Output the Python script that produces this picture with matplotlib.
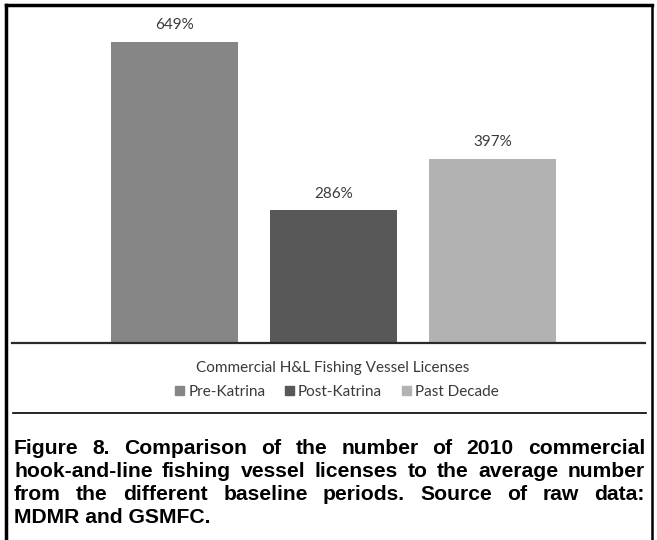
import numpy as np
import matplotlib.pyplot as plt
from matplotlib.lines import Line2D
from matplotlib.patches import Patch

# data
periods = ['Pre-Katrina', 'Post-Katrina', 'Past Decade']
pct = [649, 286, 397]
bar_colors = ['#868686', '#585858', '#b2b2b2']
axis_title = 'Commercial H&L Fishing Vessel Licenses'
caption_lines = [
    'Figure 8. Comparison of the number of 2010 commercial',
    'hook-and-line fishing vessel licenses to the average number',
    'from the different baseline periods. Source of raw data:',
    'MDMR and GSMFC.',
]

W, H = 657, 540
fig = plt.figure(figsize=(W / 100, H / 100), dpi=100)

def fx(px):
    return px / W

def fy(py):
    return 1 - py / H

#chart area
ax = fig.add_axes([fx(12), fy(343), fx(645) - fx(12), 331 / H])
x = np.arange(len(pct))
bars = ax.bar(x, pct, width=0.8, color=bar_colors)
ax.set_xlim(-1.02, 2.96)
ax.set_ylim(0, 714)
for s in ['top', 'left', 'right']:
    ax.spines[s].set_visible(False)
ax.spines['bottom'].set_color('#2a2a2a')
ax.spines['bottom'].set_linewidth(1.6)
ax.set_xticks([])
ax.set_yticks([])
ax.bar_label(bars, labels=[f'{v}%' for v in pct], padding=7,
             fontsize=11, color='#3a3a3a', family='Lato')

#category title + legend
fig.text(fx(333), fy(368), axis_title, ha='center', va='center',
         fontsize=11, color='#3a3a3a', family='Lato')
handles = [Patch(color=c, label=p) for c, p in zip(bar_colors, periods)]
fig.legend(handles=handles, loc='center', bbox_to_anchor=(fx(337), fy(392)),
           ncol=3, frameon=False, handlelength=0.55, handleheight=0.55,
           handletextpad=0.3, columnspacing=1.3,
           prop={'family': 'Lato', 'size': 11}, labelcolor='#3a3a3a')

#frame lines
k = dict(transform=fig.transFigure, color='black')
fig.add_artist(Line2D([fx(6), fx(6)], [0, fy(5)], lw=2.5, **k))
fig.add_artist(Line2D([fx(652), fx(652)], [0, fy(5)], lw=1.8, **k))
fig.add_artist(Line2D([fx(6), fx(652)], [fy(5), fy(5)], lw=2.5, **k))
fig.add_artist(Line2D([fx(13), fx(646)], [fy(413), fy(413)], lw=1.2, **k))

#caption, justified
r = fig.canvas.get_renderer()
ck = dict(fontsize=15.2, fontweight='bold', family='Liberation Sans',
          color='black', va='baseline')
x0, x1 = 14, 645
base = [454, 477, 500, 523]
for line, yb in zip(caption_lines, base):
    words = line.split()
    if line == caption_lines[-1]:
        fig.text(fx(x0), fy(yb), line, **ck)
        continue
    texts = [fig.text(0, fy(yb), w, **ck) for w in words]
    widths = [t.get_window_extent(r).width for t in texts]
    gap = (x1 - x0 - sum(widths)) / (len(words) - 1)
    pos = x0
    for t, w in zip(texts, widths):
        t.set_x(fx(pos))
        pos += w + gap

fig.savefig('out.png', dpi=100)
